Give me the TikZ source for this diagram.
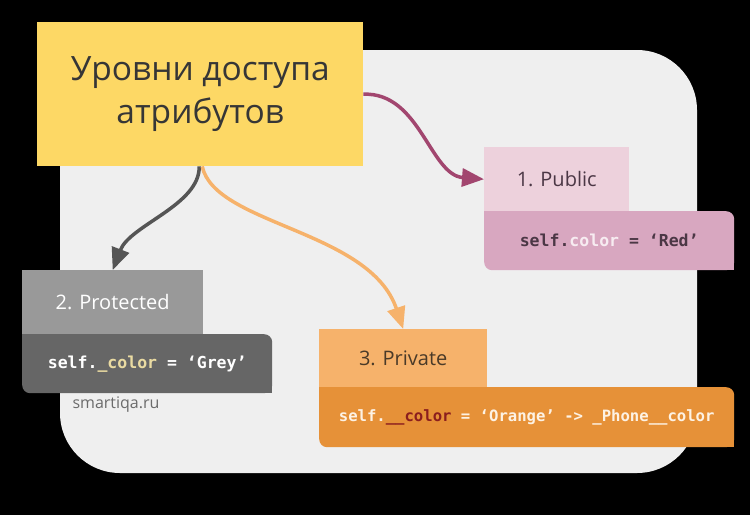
\documentclass[tikz,border=0pt]{standalone}
\usepackage{fontspec}
\setmainfont{Open Sans}
\newfontfamily\codefont{DejaVu Sans Mono}
\usetikzlibrary{arrows.meta}
\definecolor{panelgrey}{HTML}{EFEFEF}
\definecolor{titleyellow}{HTML}{FDD865}
\definecolor{titletext}{HTML}{363636}
\definecolor{pubtop}{HTML}{EDD1DC}
\definecolor{pubcode}{HTML}{D8A7C0}
\definecolor{pubtext}{HTML}{4B3745}
\definecolor{pubhi}{HTML}{F7ECF1}
\definecolor{pubarrow}{HTML}{A2466F}
\definecolor{prottop}{HTML}{999999}
\definecolor{protcode}{HTML}{666666}
\definecolor{prothi}{HTML}{EADBA2}
\definecolor{protarrow}{HTML}{555555}
\definecolor{privtop}{HTML}{F6B26B}
\definecolor{privcode}{HTML}{E69138}
\definecolor{privtext}{HTML}{4A3A28}
\definecolor{privcodetext}{HTML}{FDF2E4}
\definecolor{privhi}{HTML}{8B1E1E}
\definecolor{sitetext}{HTML}{6B6B6B}
\tikzset{
  box/.style={anchor=north west, inner sep=0pt, align=center},
  labelfont/.style={font=\fontsize{20}{24}\selectfont},
  codetxt/.style={font=\codefont\bfseries\fontsize{16.5}{20}\selectfont},
  conn/.style={line width=3.5pt, -{Triangle[length=22pt,width=18pt]}},
}
\begin{document}
\begin{tikzpicture}[x=1pt,y=-1pt]
\fill[black] (0,0) rectangle (750,515);
\useasboundingbox (0,0) rectangle (750,515);
\fill[panelgrey, rounded corners=60pt] (60,50) rectangle (697,473);

% title
\node[box, fill=titleyellow, text=titletext, minimum width=326pt, minimum height=144pt,
      font=\fontsize{33.5}{43}\selectfont] (title) at (37,22) {Уровни доступа\\атрибутов};

% public
\node[box, fill=pubtop, text=pubtext, labelfont, minimum width=145pt, minimum height=64pt] (pub) at (484,147) {1. Public};
\node[box, fill=pubcode, text=pubtext, codetxt, rounded corners=8pt, minimum width=250pt, minimum height=59pt] (pubc) at (484,211)
  {self.\textcolor{pubhi}{color} = ‘Red’};
\fill[pubcode] (pubc.north west) rectangle ++(8,8);
\fill[pubcode] (pubc.south east) rectangle ++(-8,-8);

% protected
\node[box, fill=prottop, text=white, labelfont, minimum width=181pt, minimum height=64pt] (prot) at (22,270) {2. Protected};
\node[box, fill=protcode, text=white, codetxt, rounded corners=8pt, minimum width=250pt, minimum height=59pt] (protc) at (22,334)
  {self.\textcolor{prothi}{\_color} = ‘Grey’};
\fill[protcode] (protc.north west) rectangle ++(8,8);
\fill[protcode] (protc.south east) rectangle ++(-8,-8);

\node[text=sitetext, font=\fontsize{16}{19}\selectfont, inner sep=0pt] (site) at (116,405) {smartiqa.ru};

% private
\node[box, fill=privtop, text=privtext, labelfont, minimum width=168pt, minimum height=58pt] (priv) at (319,329) {3. Private};
\node[box, fill=privcode, text=privcodetext, codetxt, font=\codefont\bfseries\fontsize{15.6}{19}\selectfont, rounded corners=8pt, minimum width=415pt, minimum height=60pt] (privc) at (319,387)
  {self.\textcolor{privhi}{\_\_color} = ‘Orange’ -> \_Phone\_\_color};
\fill[privcode] (privc.north west) rectangle ++(8,8);
\fill[privcode] (privc.south east) rectangle ++(-8,-8);

% connectors
\draw[conn, pubarrow] (title.east) .. controls (420,92) and (430,175) .. (pub.west);
\draw[conn, protarrow] ([xshift=-1pt]title.south) .. controls (200,205) and (130,225) .. (prot.north);
\draw[conn, privtop] ([xshift=2pt]title.south) .. controls (215,225) and (370,230) .. (priv.north);
\end{tikzpicture}
\end{document}
